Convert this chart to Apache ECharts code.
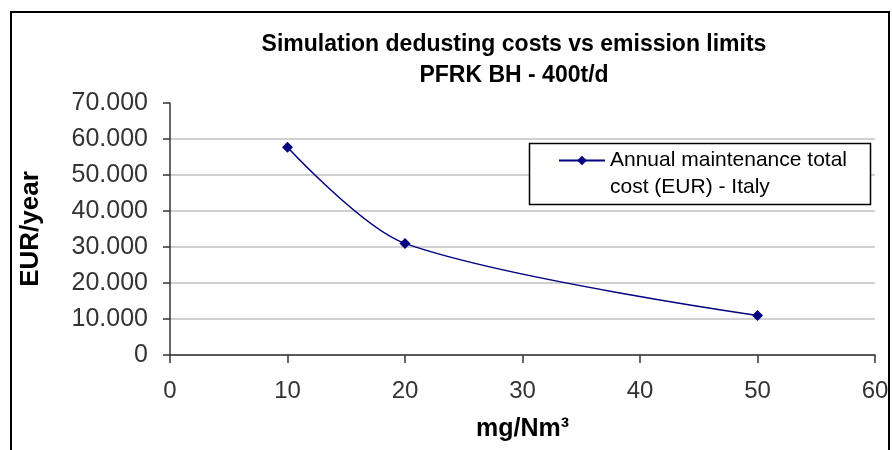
<!DOCTYPE html>
<html>
<head>
  <meta charset="utf-8" />
  <title>dedusting costs vs emission limits</title>
  <style>
    html, body { margin: 0; padding: 0; background: #fff; }
    #chartBox { width: 892px; height: 450px; }
  </style>
</head>
<body>
  <div id="chartBox"></div>
  <script src="https://cdn.jsdelivr.net/npm/echarts@6/dist/echarts.min.js"></script>
  <script>
    // data
    var emissionLimits = [10, 20, 50];            // mg/Nm³
    var maintenanceCost = [57700, 31000, 11000];  // EUR/year
    var seriesName = 'Annual maintenance total\ncost (EUR) - Italy';
    var titleLines = ['Simulation dedusting costs vs emission limits', 'PFRK BH - 400t/d'];
    var xTicks = { min: 0, max: 60, step: 10 };
    var yTicks = { min: 0, max: 70000, step: 10000 };

    var fontName = 'Liberation Sans';
    var lineColor = '#000080';

    // 10000 -> "10.000"
    function dotThousands(v) {
      return String(v).replace(/\B(?=(\d{3})+(?!\d))/g, '.');
    }

    function initCostChart(id) {
      var myChart = echarts.init(document.getElementById(id));
      var points = [];
      for (var i = 0; i < emissionLimits.length; i++) {
        points.push([emissionLimits[i], maintenanceCost[i]]);
      }
      // no grid line on the top tick
      var gridColors = [];
      for (var v = yTicks.min; v < yTicks.max; v += yTicks.step) gridColors.push('#c0c0c0');
      gridColors.push('rgba(0,0,0,0)');

      var option = {
        animation: false,
        textStyle: { fontFamily: fontName },
        graphic: [
          { type: 'rect', z: 0, silent: true,
            shape: { x: 11, y: 12, width: 878, height: 470 },
            style: { fill: 'none', stroke: '#000', lineWidth: 2 } },
          { type: 'text', z: 5, x: 514, y: 45,
            style: { text: titleLines[0], textAlign: 'center', textVerticalAlign: 'middle',
                     font: 'bold 23px "Liberation Sans"', fill: '#000' } },
          { type: 'text', z: 5, x: 514, y: 76,
            style: { text: titleLines[1], textAlign: 'center', textVerticalAlign: 'middle',
                     font: 'bold 23px "Liberation Sans"', fill: '#000' } },
          { type: 'rect', z: 3, silent: true,
            shape: { x: 529.5, y: 143.5, width: 341, height: 61 },
            style: { fill: '#fff', stroke: '#000', lineWidth: 1.5 } }
        ],
        grid: { left: 170, right: 17, top: 103, bottom: 95 },
        legend: {
          left: 558,
          top: 120,
          padding: 0,
          z: 6,
          itemWidth: 46,
          itemHeight: 12,
          textStyle: { fontSize: 21, lineHeight: 27, color: '#000' },
          // empty first line so the icon sits on the first text line
          formatter: function (name) { return ' \n' + name; },
          data: [seriesName]
        },
        xAxis: {
          type: 'value',
          min: xTicks.min,
          max: xTicks.max,
          interval: xTicks.step,
          name: 'mg/Nm³',
          nameLocation: 'middle',
          nameGap: 62,
          nameTextStyle: { fontSize: 25, fontWeight: 'bold', color: '#000' },
          axisLine: { lineStyle: { color: '#333', width: 1.5 } },
          axisTick: { inside: false, length: 8, lineStyle: { color: '#333', width: 1.5 } },
          axisLabel: { margin: 24, fontSize: 24, color: '#333' },
          splitLine: { show: false }
        },
        yAxis: {
          type: 'value',
          min: yTicks.min,
          max: yTicks.max,
          interval: yTicks.step,
          name: 'EUR/year',
          nameLocation: 'middle',
          nameGap: 126,
          nameTextStyle: { fontSize: 26, fontWeight: 'bold', color: '#000' },
          axisLine: { show: true, lineStyle: { color: '#333', width: 1.5 } },
          axisTick: { show: true, inside: false, length: 7, lineStyle: { color: '#333', width: 1.5 } },
          axisLabel: { margin: 22, fontSize: 25, color: '#333', formatter: dotThousands },
          splitLine: { show: true, lineStyle: { color: gridColors, width: 1.5 } }
        },
        series: [{
          name: seriesName,
          type: 'line',
          smooth: 0.3,
          symbol: 'diamond',
          symbolSize: 11,
          itemStyle: { color: lineColor },
          lineStyle: { color: lineColor, width: 1.5 },
          data: points,
          z: 2
        }]
      };
      myChart.setOption(option);
    }

    initCostChart('chartBox');
  </script>
</body>
</html>
